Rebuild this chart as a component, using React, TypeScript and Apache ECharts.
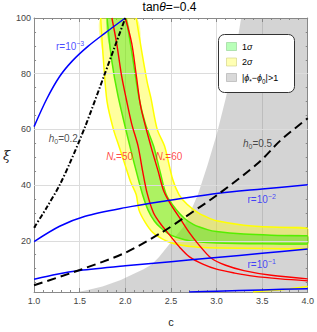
import React, { useEffect, useRef } from "react";
import * as echarts from "echarts";

// axis ranges and ticks
const xMin = 1.0;
const xMax = 4.0;
const yMin = 1.6;
const yMax = 100;
const yMajorTicks = [20, 40, 60, 80, 100];
const yMinorTicks = [5, 10, 15, 25, 30, 35, 45, 50, 55, 65, 70, 75, 85, 90, 95];

// curves [c, xi]
const rMinus3 = [[1.0, 61.0], [1.14, 71.0], [1.28, 79.0], [1.42, 84.6], [1.59, 89.8], [1.77, 94.4], [2.0, 100]];
const rMinus2 = [[1.0, 19.7], [1.28, 25.2], [1.56, 28.8], [2.0, 31.9], [2.4, 34.1], [3.0, 37.0], [3.5, 38.6], [4.0, 40.1]];
const rMinus1 = [[1.0, 6.2], [1.25, 8.0], [1.5, 9.3], [2.0, 11.0], [2.5, 12.5], [3.0, 14.0], [3.5, 15.5], [4.0, 17.0]];
const rZero = [[2.7, 1.6], [3.0, 1.9], [3.5, 2.35], [4.0, 2.8]];
const h02 = [[1.0, 24.7], [1.14, 32], [1.28, 40], [1.4, 48.5], [1.56, 61], [1.77, 79.5], [2.0, 100]];
const h05 = [[1.0, 4.0], [1.5, 9.5], [2.0, 15.7], [2.4, 23.0], [2.65, 28.4], [3.03, 37.0], [3.46, 48.0], [3.7, 56.0], [4.0, 64.0]];
const nStar50 = [[1.853, 100], [1.905, 91], [1.958, 79.5], [2.01, 71], [2.07, 62], [2.14, 54], [2.19, 45], [2.24, 37], [2.31, 30], [2.4, 25.5], [2.5, 21.5], [2.6, 17.5], [2.7, 14.3], [2.85, 11.6], [3.0, 9.8], [3.2, 8.4], [3.4, 7.3], [3.7, 6.3], [4.0, 5.6]];
const nStar60 = [[2.0, 100], [2.07, 91], [2.12, 79.5], [2.17, 68], [2.28, 54], [2.36, 45], [2.42, 38], [2.5, 33], [2.6, 28], [2.7, 23], [2.8, 18.8], [2.94, 13.8], [3.1, 11.2], [3.3, 9.3], [3.6, 7.6], [4.0, 6.3]];
const sigma2Low = [[1.73, 100], [1.76, 85], [1.8, 70], [1.87, 60], [1.93, 54], [2.02, 45], [2.06, 41], [2.12, 36.5], [2.15, 31], [2.22, 26.5], [2.3, 23], [2.4, 20.8], [2.5, 19.3], [2.65, 18.2], [2.8, 17.7], [3.0, 17.4], [3.5, 17.2], [4.0, 17.1]];
const sigma2High = [[2.12, 100], [2.18, 88], [2.24, 77], [2.28, 71.4], [2.35, 60], [2.43, 54], [2.52, 42], [2.59, 36.5], [2.68, 33], [2.8, 30], [2.9, 28.4], [3.0, 27.2], [3.3, 25.6], [3.6, 24.9], [4.0, 24.5]];
const sigma1Low = [[1.8, 100], [1.85, 85], [1.92, 72], [2.05, 54], [2.12, 45], [2.19, 36.5], [2.25, 31], [2.32, 27], [2.4, 24.3], [2.5, 22], [2.65, 20.4], [2.8, 19.6], [3.0, 19.2], [3.5, 18.9], [4.0, 18.8]];
const sigma1High = [[2.01, 100], [2.07, 88], [2.15, 71.4], [2.22, 62], [2.31, 54], [2.38, 45], [2.45, 36.5], [2.55, 31.5], [2.65, 28], [2.75, 25.8], [2.9, 24], [3.0, 23.3], [3.3, 22.4], [3.6, 22.0], [4.0, 21.8]];
const sigma2Foot = [[3.4, 1.6], [3.6, 2.1], [3.8, 2.8], [4.0, 3.6]];
const excludedEdge = [[1.48, 1.6], [1.6, 2.4], [1.75, 3.6], [1.95, 5.9], [2.1, 8.2], [2.2, 9.8], [2.29, 11.5], [2.37, 14.2], [2.5, 19.5], [2.65, 25.5], [2.8, 37], [2.9, 47], [3.0, 58], [3.1, 71], [3.2, 86], [3.27, 100]];

// text
const titleParts = ["tan", "θ", "=−0.4"];
const legendRows = [
  { text: "{b|1}{i|σ}", color: "#b8ffb8", border: "#8fcf8f" },
  { text: "{b|2}{i|σ}", color: "#ffffb3", border: "#cfcf80" },
  { text: "{b||}{i|ϕ}{sub|*}{b|−}{i|ϕ}{sub|0}{b||>1}", color: "#d9d9d9", border: "#aaaaaa" },
];
const curveLabels = [
  { at: [1.24, 89.6], text: "{b|r=10}{sup|−3}", color: "#1a1aff" },
  { at: [1.16, 56.8], text: "{i|h}{sub|0}{b|=0.2}", color: "#222" },
  { at: [1.79, 50.1], text: "{i|N}{sub|*}{b|=50}", color: "#ff2020" },
  { at: [2.33, 50.1], text: "{i|N}{sub|*}{b|=60}", color: "#ff2020" },
  { at: [3.29, 55.0], text: "{i|h}{sub|0}{b|=0.5}", color: "#222" },
  { at: [3.34, 34.8], text: "{b|r=10}{sup|−2}", color: "#1a1aff" },
  { at: [3.34, 11.4], text: "{b|r=10}{sup|−1}", color: "#1a1aff" },
];

const FONT = "Liberation Sans";
const AXIS_COLOR = "#8a8a8a";
const GRID_COLOR = "#dcdcdc";

function richFor(color: string, size: number) {
  return {
    b: { fontSize: size, color, fontFamily: FONT, lineHeight: size + 4 },
    i: { fontSize: size, color, fontFamily: FONT, fontStyle: "italic", lineHeight: size + 4 },
    sup: { fontSize: size * 0.7, color, fontFamily: FONT, verticalAlign: "top", lineHeight: size * 0.7 },
    sub: { fontSize: size * 0.7, color, fontFamily: FONT, verticalAlign: "bottom", lineHeight: size * 0.7 },
  };
}

function lineSeries(data: number[][], color: string, width: number, type: any = "solid", z = 5) {
  return {
    type: "line",
    data,
    showSymbol: false,
    symbol: "none",
    smooth: 0.3,
    clip: true,
    silent: true,
    z,
    lineStyle: { color, width, type },
  };
}

function bandSeries(low: number[][], high: number[][], fill: string, edge: string, z: number) {
  return {
    type: "custom",
    coordinateSystem: "cartesian2d",
    data: [low[0]],
    clip: true,
    silent: true,
    z,
    renderItem: (_params: any, api: any) => {
      const lo = low.map((p) => api.coord(p));
      const hi = high.map((p) => api.coord(p));
      return {
        type: "group",
        children: [
          {
            type: "polygon",
            shape: { points: lo.concat(hi.slice().reverse()), smooth: 0.3 },
            style: { fill, stroke: null },
          },
          {
            type: "polyline",
            shape: { points: lo, smooth: 0.3 },
            style: { fill: null, stroke: edge, lineWidth: 1.5 },
          },
          {
            type: "polyline",
            shape: { points: hi, smooth: 0.3 },
            style: { fill: null, stroke: edge, lineWidth: 1.5 },
          },
        ],
      };
    },
  };
}

export default function App() {
  const ref = useRef<HTMLDivElement>(null);
  useEffect(() => {
    if (!ref.current) return;
    const chart = echarts.init(ref.current, null, { renderer: "svg" });
    const gridLeft = 27;
    const gridTop = 18;
    const gridW = 285;
    const gridH = 282;

    const baseX = {
      type: "value",
      min: xMin,
      max: xMax,
      interval: 0.5,
      axisLine: { show: true, onZero: false, lineStyle: { color: AXIS_COLOR, width: 1 } },
      axisTick: { show: true, inside: true, length: 4, lineStyle: { color: AXIS_COLOR } },
      minorTick: { show: true, splitNumber: 5, length: 2, lineStyle: { color: AXIS_COLOR } },
    };
    const baseY = {
      type: "value",
      min: yMin,
      max: yMax,
      axisLine: { show: true, onZero: false, lineStyle: { color: AXIS_COLOR, width: 1 } },
      splitLine: { show: false },
    };

    const option: any = {
      animation: false,
      backgroundColor: "#ffffff",
      textStyle: { fontFamily: FONT },
      grid: { left: gridLeft, top: gridTop, width: gridW, height: gridH, containLabel: false },
      xAxis: [
        {
          ...baseX,
          position: "bottom",
          axisLabel: { show: true, fontSize: 9, color: "#444", margin: 4, formatter: (v: number) => v.toFixed(1) },
          splitLine: { show: true, lineStyle: { color: GRID_COLOR, width: 1 } },
          name: "c",
          nameLocation: "middle",
          nameGap: 24,
          nameTextStyle: { fontSize: 11, color: "#222", fontFamily: FONT },
        },
        {
          ...baseX,
          position: "top",
          axisLabel: { show: false },
          splitLine: { show: false },
        },
      ],
      yAxis: [
        {
          ...baseY,
          position: "left",
          axisTick: { show: true, inside: true, length: 4, customValues: yMajorTicks, lineStyle: { color: AXIS_COLOR } },
          axisLabel: { show: true, fontSize: 9, color: "#444", margin: 3, customValues: yMajorTicks },
          name: "ξ",
          nameLocation: "middle",
          nameGap: 20,
          nameRotate: 0,
          nameTextStyle: { fontSize: 13, color: "#222", fontStyle: "italic", fontFamily: "DejaVu Serif", padding: [6, 0, 0, 0] },
        },
        {
          ...baseY,
          position: "left",
          axisLine: { show: false },
          axisTick: { show: true, inside: true, length: 2, customValues: yMinorTicks, lineStyle: { color: AXIS_COLOR } },
          axisLabel: { show: false },
        },
        {
          ...baseY,
          position: "right",
          axisTick: { show: true, inside: true, length: 4, customValues: yMajorTicks, lineStyle: { color: AXIS_COLOR } },
          axisLabel: { show: false },
        },
        {
          ...baseY,
          position: "right",
          axisLine: { show: false },
          axisTick: { show: true, inside: true, length: 2, customValues: yMinorTicks, lineStyle: { color: AXIS_COLOR } },
          axisLabel: { show: false },
        },
      ],
      series: [
        {
          type: "line",
          data: [],
          silent: true,
          z: 1,
          markLine: {
            silent: true,
            symbol: "none",
            animation: false,
            label: { show: false },
            lineStyle: { color: GRID_COLOR, type: "solid", width: 1 },
            data: yMajorTicks.filter((v) => v < yMax).map((v) => ({ yAxis: v })),
          },
        },
        {
          type: "custom",
          coordinateSystem: "cartesian2d",
          data: [excludedEdge[0]],
          clip: true,
          silent: true,
          z: 2,
          renderItem: (_p: any, api: any) => {
            const pts = excludedEdge.map((p) => api.coord(p));
            pts.push(api.coord([xMax, yMax]));
            pts.push(api.coord([xMax, yMin]));
            return { type: "polygon", shape: { points: pts }, style: { fill: "rgba(128,128,128,0.34)", stroke: null } };
          },
        },
        bandSeries(sigma2Low, sigma2High, "rgba(255,255,0,0.38)", "#ffff00", 3),
        bandSeries(sigma1Low, sigma1High, "rgba(40,220,0,0.38)", "#55ee00", 4),
        lineSeries(sigma2Foot, "#ffff00", 1.5, "solid", 4),
        lineSeries(nStar50, "#ff0000", 1.4),
        lineSeries(nStar60, "#ff0000", 1.4),
        lineSeries(rMinus3, "#0000ff", 1.5, "solid", 6),
        lineSeries(rMinus2, "#0000ff", 1.5, "solid", 6),
        lineSeries(rMinus1, "#0000ff", 1.5, "solid", 6),
        lineSeries(rZero, "#0000ff", 1.5, "solid", 6),
        lineSeries(h02, "#000000", 2, [5, 2, 1.5, 2], 7),
        lineSeries(h05, "#000000", 2, [9, 5], 7),
        {
          type: "scatter",
          symbolSize: 0,
          silent: true,
          z: 8,
          data: curveLabels.map((l) => ({
            value: l.at,
            label: {
              show: true,
              position: "right",
              distance: 0,
              formatter: l.text,
              rich: richFor(l.color, 10),
            },
          })),
        },
      ],
      graphic: [
        {
          type: "text",
          x: gridLeft + gridW / 2,
          y: 7,
          z: 100,
          style: {
            text: `{b|${titleParts[0]}}{i|${titleParts[1]}}{b|${titleParts[2]}}`,
            align: "center",
            verticalAlign: "middle",
            rich: richFor("#222", 12),
          },
        },
        {
          type: "rect",
          z: 100,
          shape: { x: 218.5, y: 34.5, width: 76, height: 58, r: 6 },
          style: { fill: "#ffffff", stroke: "#333333", lineWidth: 1 },
        },
        ...legendRows.map((row, i) => ({
          type: "rect",
          z: 101,
          shape: { x: 226.5, y: 42.5 + i * 15.5, width: 10, height: 8 },
          style: { fill: row.color, stroke: row.border, lineWidth: 0.6 },
        })),
        ...legendRows.map((row, i) => ({
          type: "text",
          z: 101,
          x: 242,
          y: 46.5 + i * 15.5,
          style: {
            text: row.text,
            align: "left",
            verticalAlign: "middle",
            rich: richFor("#222", 9),
          },
        })),
      ],
    };
    chart.setOption(option);
    return () => chart.dispose();
  }, []);
  return (
    <div
      ref={ref}
      style={{ position: "absolute", left: 0, top: 0, width: 317, height: 332, background: "#fff" }}
    />
  );
}
